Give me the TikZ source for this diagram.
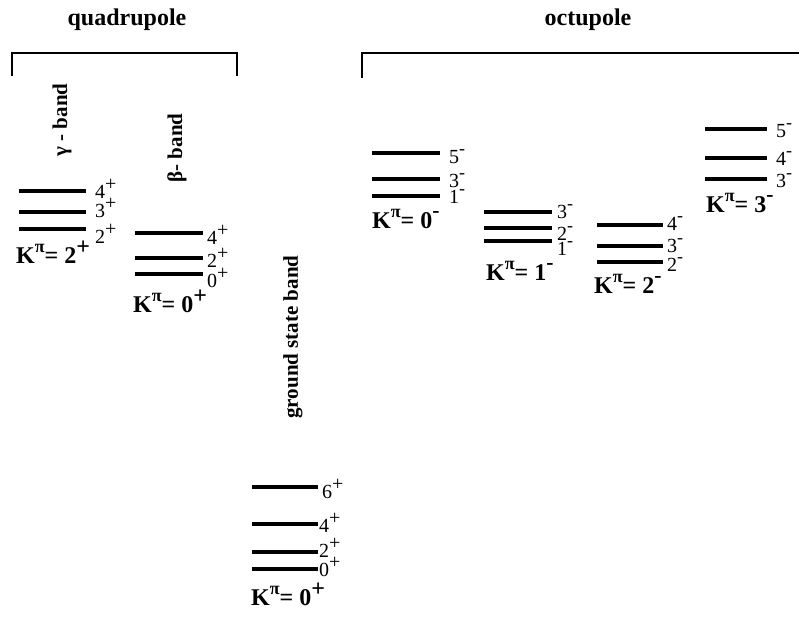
\documentclass[tikz,border=0pt]{standalone}
\usepackage{fontspec}
\setmainfont{Liberation Serif}
\usetikzlibrary{positioning}
\newcommand\parplus{\raisebox{.36em}{\scalebox{1}{+}}}
\newcommand\parminus{\raisebox{.44em}{\scalebox{.9}{-}}}
\newcommand\pisup{\raisebox{.45em}{\scalebox{.75}{π}}}

\begin{document}
\begin{tikzpicture}[x=1pt, y=-1pt,
    lvl/.style={line width=3.2pt},
    brk/.style={line width=2.8pt},
    spin/.style={anchor=base west, inner sep=0pt, font=\fontsize{20}{20}\selectfont},
    kpi/.style={anchor=base west, inner sep=0pt, font=\fontsize{24}{24}\selectfont\bfseries},
    head/.style={anchor=base, inner sep=0pt, font=\fontsize{24}{24}\selectfont\bfseries},
    bandname/.style={rotate=90, inner sep=0pt, font=\fontsize{21}{21}\selectfont\bfseries},
  ]
  \useasboundingbox (0,0) rectangle (799,622);

  % headings and brackets
  \node[head] (quad) at (127,25) {quadrupole};
  \node[head] (octu) at (588,25) {octupole};
  \draw[brk] (12,76) -- (12,53) -- (237,53) -- (237,76);
  \draw[brk] (362,78) -- (362,53) -- (799,53);

  % gamma band
  \node[bandname] (gname) at (62,120) {γ - band};
  \foreach \j/\y/\b in {4/191/198, 3/212/217, 2/229/243}{
    \draw[lvl] (19,\y) -- (86,\y);
    \node[spin] (g\j) at (95,\b) {\j\parplus};
  }
  \node[kpi] (gk) at (16,263) {K\pisup= 2\parplus};

  % beta band
  \node[bandname] (bname) at (177,148) {β- band};
  \foreach \j/\y/\b in {4/233/244, 2/258/267, 0/274/287}{
    \draw[lvl] (135,\y) -- (203,\y);
    \node[spin] (b\j) at (207,\b) {\j\parplus};
  }
  \node[kpi] (bk) at (133,312) {K\pisup= 0\parplus};

  % ground state band
  \node[bandname] (gsname) at (293,337) {ground state band};
  \foreach \j/\y/\b/\x in {6/487/498/322, 4/524/532/319, 2/552/557/319, 0/569/576/319}{
    \draw[lvl] (252,\y) -- (318,\y);
    \node[spin] (gs\j) at (\x,\b) {\j\parplus};
  }
  \node[kpi] (gsk) at (251,605) {K\pisup= 0\parplus};

  % octupole K=0
  \foreach \j/\y/\b in {5/153/163, 3/179/187, 1/196/203}{
    \draw[lvl] (372,\y) -- (440,\y);
    \node[spin] (o\j) at (449,\b) {\j\parminus};
  }
  \node[kpi] (ok) at (372,228) {K\pisup= 0\parminus};

  % octupole K=1
  \foreach \j/\y/\b in {3/212/218, 2/228/240, 1/241/255}{
    \draw[lvl] (484,\y) -- (552,\y);
    \node[spin] (p\j) at (557,\b) {\j\parminus};
  }
  \node[kpi] (pk) at (486,280) {K\pisup= 1\parminus};

  % octupole K=2
  \foreach \j/\y/\b in {4/225/230, 3/246/252, 2/262/271}{
    \draw[lvl] (597,\y) -- (663,\y);
    \node[spin] (q\j) at (667,\b) {\j\parminus};
  }
  \node[kpi] (qk) at (594,293) {K\pisup= 2\parminus};

  % octupole K=3
  \foreach \j/\y/\b in {5/129/137, 4/158/165, 3/179/187}{
    \draw[lvl] (705,\y) -- (767,\y);
    \node[spin] (r\j) at (776,\b) {\j\parminus};
  }
  \node[kpi] (rk) at (706,212) {K\pisup= 3\parminus};
\end{tikzpicture}
\end{document}
